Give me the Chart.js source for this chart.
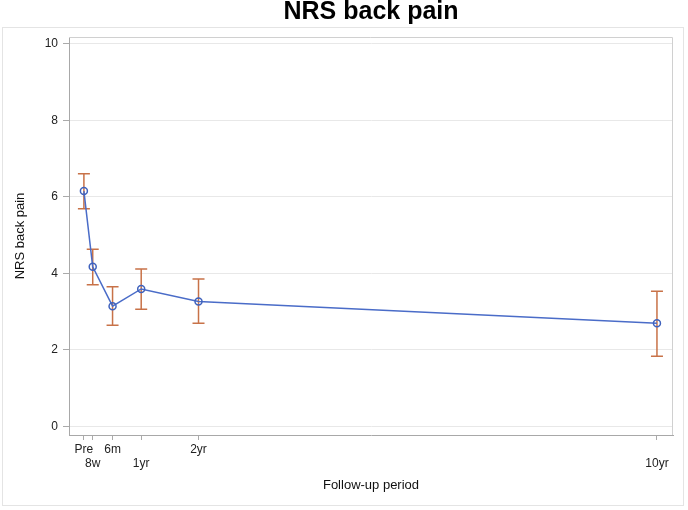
<!DOCTYPE html>
<html>
<head>
<meta charset="utf-8">
<script src="https://cdn.jsdelivr.net/npm/chart.js@4"></script>
<style>
  html, body { margin: 0; padding: 0; background: #fff; }
  #wrap { width: 688px; height: 510px; }
</style>
</head>
<body>
<div id="wrap"><canvas id="nrsChart"></canvas></div>
<script>
const timeLabels = ['Pre', '8w', '6m', '1yr', '2yr', '10yr'];
const timeYears = [0, 0.154, 0.5, 1, 2, 10];
const meanNRS = [6.15, 4.17, 3.14, 3.59, 3.26, 2.69];
const upperCI = [6.60, 4.63, 3.65, 4.11, 3.85, 3.53];
const lowerCI = [5.69, 3.70, 2.64, 3.06, 2.69, 1.83];
const yTicks = [0, 2, 4, 6, 8, 10];

Chart.defaults.font.family = '"Liberation Sans", Arial, sans-serif';
Chart.defaults.font.size = 12;
Chart.defaults.color = '#333';

// cadre extérieur + bordure du graphique
const frame = {
  id: 'frame',
  beforeDraw(chart) {
    const ctx = chart.ctx;
    ctx.save();
    ctx.fillStyle = '#fff';
    ctx.fillRect(0, 0, chart.width, chart.height);
    ctx.strokeStyle = '#e4e4e4';
    ctx.lineWidth = 1;
    ctx.strokeRect(2.5, 27.5, 681, 478);
    ctx.restore();
  },
  afterDraw(chart) {
    const { ctx, chartArea: a } = chart;
    ctx.save();
    ctx.strokeStyle = '#d0d0d0';
    ctx.lineWidth = 1;
    ctx.beginPath();
    ctx.moveTo(a.left, a.top + 0.5);
    ctx.lineTo(a.right - 0.5, a.top + 0.5);
    ctx.lineTo(a.right - 0.5, a.bottom);
    ctx.stroke();
    ctx.restore();
  }
};

// barres d'erreur
const errorBars = {
  id: 'errorBars',
  beforeDatasetsDraw(chart) {
    const { ctx, scales: { x, y } } = chart;
    ctx.save();
    ctx.strokeStyle = '#c87248';
    ctx.lineWidth = 1.5;
    timeYears.forEach((t, i) => {
      const px = x.getPixelForValue(t);
      const top = y.getPixelForValue(upperCI[i]);
      const bot = y.getPixelForValue(lowerCI[i]);
      ctx.beginPath();
      ctx.moveTo(px, top); ctx.lineTo(px, bot);
      ctx.moveTo(px - 6, top); ctx.lineTo(px + 6, top);
      ctx.moveTo(px - 6, bot); ctx.lineTo(px + 6, bot);
      ctx.stroke();
    });
    ctx.restore();
  }
};

new Chart(document.getElementById('nrsChart'), {
  type: 'scatter',
  data: {
    datasets: [{
      data: timeYears.map((t, i) => ({ x: t, y: meanNRS[i] })),
      showLine: true,
      borderColor: '#4a6cc8',
      borderWidth: 1.5,
      pointRadius: 3.5,
      pointBorderWidth: 1.5,
      pointBorderColor: '#3f62bd',
      pointBackgroundColor: 'rgba(0,0,0,0)',
      tension: 0
    }]
  },
  options: {
    responsive: true,
    maintainAspectRatio: false,
    animation: false,
    layout: { padding: { right: 15 } },
    plugins: {
      legend: { display: false },
      tooltip: { enabled: false },
      title: {
        display: true,
        text: 'NRS back pain',
        fullSize: false,
        color: '#000',
        font: { size: 25, weight: 'bold', lineHeight: 1 },
        padding: { top: 0, bottom: 12 }
      }
    },
    scales: {
      x: {
        type: 'linear',
        min: -0.26,
        max: 10.28,
        afterBuildTicks: s => { s.ticks = timeYears.map(v => ({ value: v })); },
        afterFit: s => { s.height = 75; },
        ticks: {
          padding: 3.4,
          maxRotation: 0,
          autoSkip: false,
          color: '#222',
          font: { size: 12, lineHeight: 1.1 },
          callback: (v, i) => (i % 2 ? ['', timeLabels[i]] : timeLabels[i])
        },
        grid: { drawOnChartArea: false, tickLength: 5, tickColor: '#aaa' },
        border: { color: '#a8a8a8' },
        title: {
          display: true,
          text: 'Follow-up period',
          color: '#111',
          font: { size: 13 },
          padding: { top: 0, bottom: 17 }
        }
      },
      y: {
        min: -0.23,
        max: 10.18,
        afterBuildTicks: s => { s.ticks = yTicks.map(v => ({ value: v })); },
        afterFit: s => { s.width = 69; },
        ticks: { padding: 5, color: '#222', font: { size: 12 } },
        grid: { color: '#e8e8e8', tickLength: 6, tickColor: '#aaa' },
        border: { color: '#a8a8a8' },
        title: {
          display: true,
          text: 'NRS back pain',
          color: '#111',
          font: { size: 13 },
          padding: { top: 13, bottom: 0 }
        }
      }
    }
  },
  plugins: [frame, errorBars]
});
</script>
</body>
</html>
